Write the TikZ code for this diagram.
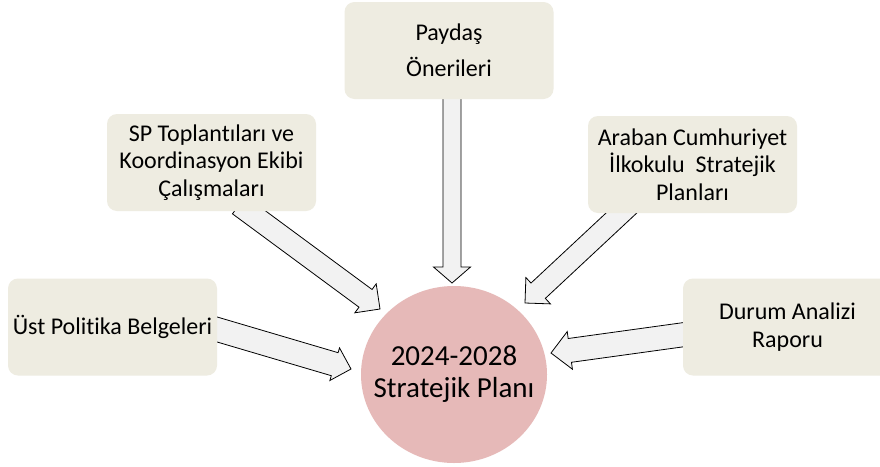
\documentclass[tikz,border=0pt]{standalone}
\usepackage{fontspec}
\setmainfont{Carlito}[Ligatures=NoCommon]
\usetikzlibrary{calc,backgrounds}
\definecolor{boxfill}{HTML}{EEECE1}
\definecolor{circfill}{HTML}{E6B9B8}
\definecolor{arrfill}{HTML}{F2F2F2}
\tikzset{
  srcbox/.style={draw=none, fill=boxfill, rounded corners=10pt, minimum width=209pt,
    minimum height=97pt, align=center, inner sep=0pt, text=black,
    font=\fontsize{24}{27.5}\selectfont},
  goal/.style={draw=none, inner sep=0pt, align=center, font=\fontsize{29}{32}\selectfont},
  barrow/.style={draw=black, fill=arrfill, line width=0.8pt, line join=miter}
}
\newcommand\blockarr[5]{%
  \coordinate (ba-n) at ($(#2)!#5!(#1)$);
  \draw[barrow] ($(#1)!#3!90:(#2)$) -- ($(ba-n)!#3!-90:(#1)$) -- ($(ba-n)!#4!-90:(#1)$)
    -- (#2) -- ($(ba-n)!#4!90:(#1)$) -- ($(ba-n)!#3!90:(#1)$) -- ($(#1)!#3!-90:(#2)$) -- cycle;
}
\begin{document}
\begin{tikzpicture}[x=1pt,y=-1pt]
\clip (0,0) rectangle (880,466);

\node[srcbox, font=\fontsize{24}{36}\selectfont] (pay) at (449,50.5) {Paydaş\\Önerileri};
\node[srcbox] (sp) at (211.5,162.5) {SP Toplantıları ve\\Koordinasyon Ekibi\\Çalışmaları};
\node[srcbox] (ara) at (692.5,164.5) {Araban Cumhuriyet\\İlkokulu~ Stratejik\\Planları};
\node[srcbox] (ust) at (112.5,327) {Üst Politika Belgeleri};
\node[srcbox] (dur) at (787.5,327) {Durum Analizi\\Raporu};
\fill[circfill] (454,374.5) ellipse [x radius=93, y radius=88.5];
\node[goal] (plan) at (454,374.5) {2024-2028\\Stratejik Planı};

\coordinate (t-pay) at (452,90);   \coordinate (h-pay) at (452,283);
\coordinate (t-sp)  at (239,205);  \coordinate (h-sp)  at (380,309);
\coordinate (t-ara) at (630,205);  \coordinate (h-ara) at (525,303);
\coordinate (t-ust) at (207,326.5);\coordinate (h-ust) at (351,369);
\coordinate (t-dur) at (692,333.5);\coordinate (h-dur) at (551,353);

\begin{scope}[on background layer]
  \fill[white] (0,0) rectangle (880,466);
  \blockarr{t-pay}{h-pay}{9pt}{18.5pt}{16pt}
  \blockarr{t-sp}{h-sp}{11pt}{18pt}{18pt}
  \blockarr{t-ara}{h-ara}{10.5pt}{18pt}{18pt}
  \blockarr{t-ust}{h-ust}{12pt}{17pt}{17pt}
  \blockarr{t-dur}{h-dur}{12pt}{19pt}{19pt}
\end{scope}
\end{tikzpicture}
\end{document}
